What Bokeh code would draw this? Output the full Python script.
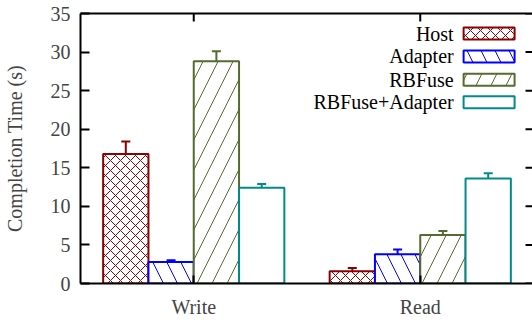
from bokeh.plotting import figure
from bokeh.models import Range1d, LinearAxis, FixedTicker, Whisker, TeeHead, ColumnDataSource
from bokeh.core.properties import value
from bokeh.embed import file_html
from bokeh.resources import INLINE

categories = ["Write", "Read"]
series = ["Host", "Adapter", "RBFuse", "RBFuse+Adapter"]
host = [16.8, 1.6]
host_err = [1.6, 0.4]
adapter = [2.8, 3.8]
adapter_err = [0.2, 0.6]
rbfuse = [28.8, 6.3]
rbfuse_err = [1.3, 0.5]
rbfuse_adapter = [12.4, 13.6]
rbfuse_adapter_err = [0.5, 0.7]
y_ticks = [0, 5, 10, 15, 20, 25, 30, 35]

values = [host, adapter, rbfuse, rbfuse_adapter]
errors = [host_err, adapter_err, rbfuse_err, rbfuse_adapter_err]
colors = ["#8b0000", "#0000ff", "#556b2f", "#008b8b"]
hatches = ["diagonal_cross", "left_diagonal_line", "right_diagonal_line", "blank"]
hatch_scales = [10, 28, 30, 12]
offsets = [-0.3, -0.1, 0.1, 0.3]
bar_w = 0.2

FONT = "Liberation Serif"
W, H = 532, 320
B_LEFT, B_RIGHT, B_TOP, B_BOTTOM = 79, 0, 13, 35
frame_w = W - B_LEFT - B_RIGHT
frame_h = H - B_TOP - B_BOTTOM
px_per_unit = 227.0
x_lo = -0.5
x_hi = x_lo + frame_w / px_per_unit
y_lo, y_hi = 0, 35
ypx = frame_h / (y_hi - y_lo)

p = figure(width=W, height=H, x_range=Range1d(x_lo, x_hi), y_range=Range1d(y_lo, y_hi),
           output_backend="svg", toolbar_location=None,
           min_border_left=B_LEFT, min_border_right=B_RIGHT,
           min_border_top=B_TOP, min_border_bottom=B_BOTTOM,
           x_axis_type=None, y_axis_type=None)
p.outline_line_color = None
p.xgrid.visible = False
p.ygrid.visible = False
p.background_fill_color = "white"
p.border_fill_color = "white"

# left axis with labels
yl = LinearAxis(ticker=FixedTicker(ticks=y_ticks))
yl.axis_label = "Completion Time (s)"
yl.axis_label_text_font = FONT
yl.axis_label_text_font_size = "20px"
yl.axis_label_text_font_style = "normal"
yl.axis_label_standoff = 22
yl.major_label_text_font = FONT
yl.major_label_text_font_size = "20px"
yl.major_label_standoff = 10
yl.major_tick_in = 9
yl.major_tick_out = 0
yl.minor_tick_in = 0
yl.minor_tick_out = 0
yl.axis_line_width = 2
yl.major_tick_line_width = 2
p.add_layout(yl, "left")

# bottom axis with category labels
xs = list(range(len(categories)))
xb = LinearAxis(ticker=FixedTicker(ticks=xs))
xb.major_label_overrides = {x: c for x, c in zip(xs, categories)}
xb.major_label_text_font = FONT
xb.major_label_text_font_size = "20px"
xb.major_label_standoff = 12
xb.major_tick_in = 8
xb.major_tick_out = 0
xb.minor_tick_in = 0
xb.minor_tick_out = 0
xb.axis_line_width = 2
xb.major_tick_line_width = 2
p.add_layout(xb, "below")

# top frame line
xt = LinearAxis(ticker=FixedTicker(ticks=[]))
xt.major_tick_in = 0
xt.major_tick_out = 0
xt.minor_tick_in = 0
xt.minor_tick_out = 0
xt.major_label_standoff = 0
xt.axis_line_width = 2
p.add_layout(xt, "above")

# mirrored inward ticks (right side, whose border lies just past the edge, and top at categories)
tick_dx = 7 / px_per_unit
p.segment(x0=[x_hi - tick_dx] * len(y_ticks), x1=[x_hi] * len(y_ticks), y0=y_ticks, y1=y_ticks,
          line_color="black", line_width=2)
tick_dy = 8 / ypx
p.segment(x0=xs, x1=xs, y0=[y_hi] * len(xs), y1=[y_hi - tick_dy] * len(xs),
          line_color="black", line_width=2)

for i, name in enumerate(series):
    src = ColumnDataSource(dict(
        x=[x + offsets[i] for x in xs],
        top=values[i],
        upper=[v + e for v, e in zip(values[i], errors[i])],
        lower=[v - e for v, e in zip(values[i], errors[i])],
    ))
    p.vbar(x="x", top="top", width=bar_w, bottom=0, source=src,
           fill_color="white", line_color=colors[i], line_width=2,
           hatch_pattern=hatches[i], hatch_color=colors[i], hatch_scale=hatch_scales[i],
           hatch_weight=1)
    w = Whisker(source=src, base="x", upper="upper", lower="lower",
                line_color=colors[i], line_width=2,
                upper_head=TeeHead(size=9, line_color=colors[i], line_width=2),
                lower_head=TeeHead(size=9, line_color=colors[i], line_width=2))
    p.add_layout(w)

# legend (pixel positions in the figure, converted to data)
def px_x(px):
    return x_lo + (px - B_LEFT) / px_per_unit

def px_y(py):
    return y_hi - (py - B_TOP) / ypx

leg_rows = [33.2, 56.3, 79.8, 102.5]
for i, name in enumerate(series):
    yy = px_y(leg_rows[i])
    p.text(x=[px_x(453)], y=[yy], text=[name], text_align="right", text_baseline="middle",
           text_font=value(FONT), text_font_size="20px", text_color="black")
    p.rect(x=[px_x(488.5)], y=[yy], width=51, height=12, width_units="screen",
           height_units="screen", fill_color="white", line_color=colors[i], line_width=2,
           hatch_pattern=hatches[i], hatch_color=colors[i], hatch_scale=hatch_scales[i],
           hatch_weight=1)

open("out.html", "w").write(file_html(p, INLINE))
